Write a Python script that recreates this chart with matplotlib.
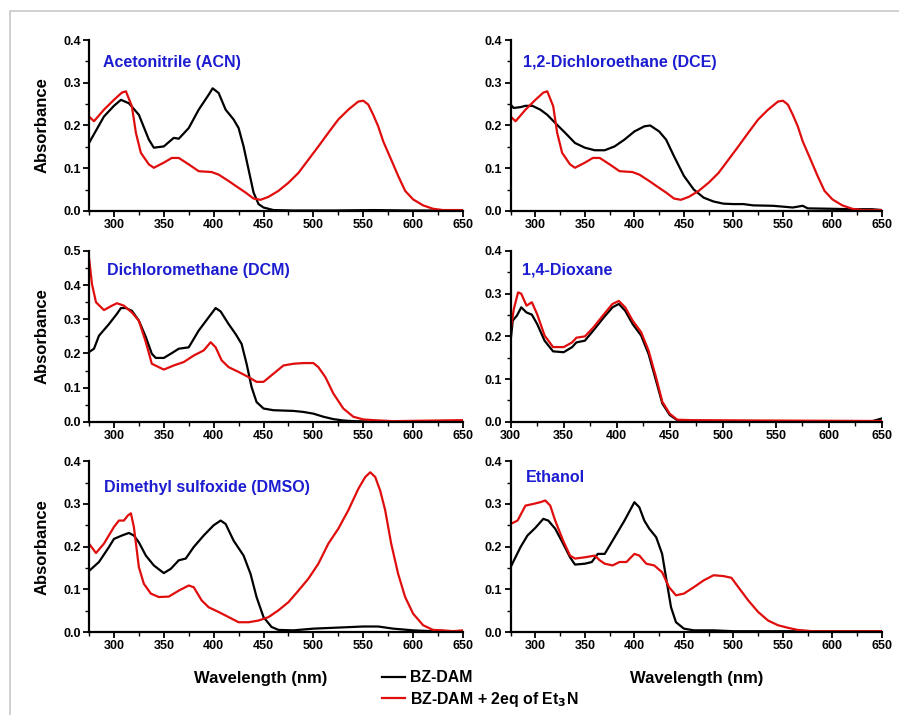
import numpy as np
import matplotlib
matplotlib.use('Agg')
import matplotlib.pyplot as plt
from matplotlib.lines import Line2D
from matplotlib.ticker import MultipleLocator, FormatStrFormatter

plt.rcParams['font.family'] = ['Liberation Sans', 'DejaVu Sans']
plt.rcParams['font.weight'] = 'bold'
plt.rcParams['mathtext.default'] = 'bf'

#- 溶媒ごとのスペクトル (nm, absorbance) 読み取り値
acn_bk_x = [275, 290, 300, 307, 315, 325, 335, 340, 350, 360, 365, 375, 385, 395, 399, 405, 412, 420, 425, 430, 435, 440, 445, 450, 460, 480, 520, 560, 600, 650]
acn_bk_y = [0.159, 0.221, 0.246, 0.260, 0.252, 0.225, 0.167, 0.148, 0.151, 0.171, 0.169, 0.194, 0.237, 0.272, 0.287, 0.276, 0.237, 0.214, 0.194, 0.151, 0.097, 0.043, 0.016, 0.008, 0.002, 0.001, 0.001, 0.002, 0.001, 0.001]
acn_rd_x = [275, 280, 290, 300, 308, 312, 318, 322, 327, 335, 340, 350, 358, 365, 375, 385, 398, 405, 415, 425, 432, 440, 447, 455, 465, 475, 485, 495, 505, 515, 525, 535, 545, 550, 555, 560, 565, 570, 578, 585, 592, 600, 610, 620, 630, 650]
acn_rd_y = [0.221, 0.210, 0.237, 0.260, 0.277, 0.280, 0.245, 0.183, 0.136, 0.109, 0.101, 0.113, 0.124, 0.124, 0.109, 0.093, 0.091, 0.085, 0.070, 0.054, 0.043, 0.029, 0.026, 0.033, 0.047, 0.066, 0.089, 0.120, 0.151, 0.183, 0.214, 0.237, 0.256, 0.258, 0.249, 0.225, 0.198, 0.163, 0.120, 0.082, 0.047, 0.027, 0.013, 0.005, 0.002, 0.002]

dce_bk_x = [275, 278, 285, 290, 297, 305, 312, 320, 330, 340, 350, 360, 370, 380, 390, 400, 410, 416, 425, 432, 440, 450, 460, 470, 480, 490, 500, 510, 520, 540, 560, 570, 575, 600, 620, 640, 650]
dce_bk_y = [0.249, 0.241, 0.243, 0.246, 0.246, 0.237, 0.225, 0.206, 0.183, 0.159, 0.148, 0.142, 0.142, 0.151, 0.167, 0.186, 0.198, 0.200, 0.186, 0.167, 0.128, 0.082, 0.050, 0.031, 0.022, 0.017, 0.016, 0.016, 0.013, 0.012, 0.008, 0.012, 0.006, 0.005, 0.004, 0.004, 0.002]
dce_rd_x = acn_rd_x
dce_rd_y = [0.221, 0.210, 0.237, 0.260, 0.277, 0.280, 0.245, 0.183, 0.136, 0.109, 0.101, 0.113, 0.124, 0.124, 0.109, 0.093, 0.091, 0.085, 0.070, 0.054, 0.043, 0.029, 0.026, 0.033, 0.047, 0.066, 0.089, 0.120, 0.151, 0.183, 0.214, 0.237, 0.256, 0.258, 0.249, 0.225, 0.198, 0.163, 0.120, 0.082, 0.047, 0.027, 0.013, 0.005, 0.002, 0.002]

dcm_bk_x = [275, 280, 285, 295, 303, 307, 312, 318, 325, 332, 338, 342, 350, 358, 365, 375, 385, 395, 402, 407, 415, 422, 428, 433, 438, 443, 450, 460, 480, 490, 500, 510, 520, 530, 540, 560, 650]
dcm_bk_y = [0.204, 0.214, 0.252, 0.286, 0.316, 0.333, 0.333, 0.325, 0.296, 0.248, 0.199, 0.187, 0.187, 0.201, 0.214, 0.218, 0.267, 0.306, 0.333, 0.323, 0.286, 0.257, 0.228, 0.170, 0.102, 0.058, 0.039, 0.034, 0.032, 0.029, 0.024, 0.015, 0.008, 0.004, 0.002, 0.001, 0.001]
dcm_rd_x = [275, 278, 282, 290, 298, 303, 310, 318, 325, 332, 338, 345, 350, 360, 370, 380, 390, 397, 402, 408, 415, 425, 435, 443, 450, 460, 470, 480, 490, 500, 505, 512, 520, 530, 540, 550, 560, 580, 600, 650]
dcm_rd_y = [0.480, 0.403, 0.350, 0.327, 0.340, 0.347, 0.340, 0.320, 0.296, 0.233, 0.170, 0.160, 0.153, 0.165, 0.175, 0.194, 0.209, 0.233, 0.218, 0.180, 0.160, 0.146, 0.131, 0.117, 0.117, 0.141, 0.165, 0.170, 0.172, 0.172, 0.160, 0.131, 0.083, 0.039, 0.015, 0.007, 0.005, 0.002, 0.003, 0.005]

dio_bk_x = [300, 302, 306, 310, 315, 320, 325, 332, 340, 350, 358, 362, 370, 378, 388, 396, 402, 408, 415, 423, 430, 437, 443, 450, 457, 470, 550, 640, 650]
dio_bk_y = [0.190, 0.237, 0.249, 0.268, 0.256, 0.251, 0.229, 0.190, 0.165, 0.163, 0.175, 0.186, 0.190, 0.214, 0.245, 0.268, 0.276, 0.260, 0.229, 0.202, 0.159, 0.097, 0.043, 0.016, 0.004, 0.002, 0.001, 0.001, 0.008]
dio_rd_x = [300, 303, 307, 310, 315, 320, 325, 332, 340, 350, 358, 362, 370, 378, 388, 396, 402, 408, 415, 423, 430, 437, 443, 450, 457, 470, 550, 650]
dio_rd_y = [0.214, 0.264, 0.303, 0.300, 0.272, 0.280, 0.252, 0.202, 0.175, 0.175, 0.186, 0.197, 0.200, 0.221, 0.252, 0.276, 0.283, 0.268, 0.237, 0.210, 0.167, 0.105, 0.047, 0.019, 0.005, 0.004, 0.003, 0.002]

dmso_bk_x = [275, 285, 295, 300, 308, 315, 320, 325, 332, 340, 350, 357, 365, 372, 380, 390, 400, 407, 412, 420, 430, 437, 443, 450, 458, 465, 480, 500, 520, 550, 565, 580, 600, 620, 650]
dmso_bk_y = [0.143, 0.164, 0.199, 0.218, 0.226, 0.232, 0.226, 0.210, 0.179, 0.156, 0.138, 0.148, 0.168, 0.172, 0.199, 0.226, 0.250, 0.261, 0.253, 0.214, 0.179, 0.136, 0.082, 0.035, 0.012, 0.005, 0.004, 0.008, 0.010, 0.013, 0.013, 0.008, 0.004, 0.002, 0.002]
dmso_rd_x = [275, 282, 290, 300, 305, 310, 314, 317, 320, 325, 330, 337, 345, 355, 365, 375, 380, 388, 395, 405, 415, 425, 435, 445, 455, 465, 475, 485, 495, 505, 515, 525, 535, 545, 552, 557, 562, 567, 572, 578, 585, 592, 600, 610, 620, 630, 640, 650]
dmso_rd_y = [0.207, 0.185, 0.207, 0.246, 0.261, 0.261, 0.273, 0.278, 0.246, 0.152, 0.113, 0.090, 0.082, 0.083, 0.097, 0.109, 0.105, 0.074, 0.058, 0.047, 0.035, 0.023, 0.023, 0.027, 0.035, 0.051, 0.070, 0.097, 0.125, 0.160, 0.207, 0.242, 0.285, 0.335, 0.363, 0.374, 0.363, 0.331, 0.285, 0.207, 0.136, 0.082, 0.043, 0.016, 0.005, 0.004, 0.002, 0.004]

eth_bk_x = [275, 285, 292, 300, 308, 313, 320, 328, 335, 340, 350, 357, 363, 370, 378, 390, 400, 405, 410, 415, 422, 428, 433, 437, 442, 450, 460, 480, 500, 650]
eth_bk_y = [0.152, 0.199, 0.226, 0.244, 0.265, 0.261, 0.242, 0.207, 0.175, 0.158, 0.160, 0.164, 0.183, 0.183, 0.214, 0.261, 0.304, 0.292, 0.261, 0.242, 0.222, 0.183, 0.113, 0.058, 0.023, 0.008, 0.004, 0.004, 0.002, 0.002]
eth_rd_x = [275, 282, 290, 298, 305, 310, 315, 320, 328, 335, 340, 350, 360, 365, 370, 378, 385, 392, 400, 405, 412, 420, 428, 435, 442, 450, 460, 470, 480, 490, 498, 505, 515, 525, 535, 545, 555, 565, 580, 650]
eth_rd_y = [0.253, 0.261, 0.296, 0.300, 0.304, 0.308, 0.296, 0.261, 0.214, 0.179, 0.172, 0.175, 0.179, 0.168, 0.160, 0.156, 0.164, 0.164, 0.183, 0.179, 0.160, 0.156, 0.140, 0.105, 0.086, 0.090, 0.105, 0.121, 0.133, 0.131, 0.127, 0.105, 0.074, 0.047, 0.027, 0.016, 0.010, 0.005, 0.002, 0.002]

names = ['Acetonitrile (ACN)', '1,2-Dichloroethane (DCE)', 'Dichloromethane (DCM)',
         '1,4-Dioxane', 'Dimethyl sulfoxide (DMSO)', 'Ethanol']
black = [(acn_bk_x, acn_bk_y), (dce_bk_x, dce_bk_y), (dcm_bk_x, dcm_bk_y),
         (dio_bk_x, dio_bk_y), (dmso_bk_x, dmso_bk_y), (eth_bk_x, eth_bk_y)]
red = [(acn_rd_x, acn_rd_y), (dce_rd_x, dce_rd_y), (dcm_rd_x, dcm_rd_y),
       (dio_rd_x, dio_rd_y), (dmso_rd_x, dmso_rd_y), (eth_rd_x, eth_rd_y)]
ymax = [0.4, 0.4, 0.5, 0.4, 0.4, 0.4]
xmin = [275, 275, 275, 300, 275, 275]
# 溶媒名の位置 (axes座標)
name_x = [0.037, 0.032, 0.048, 0.030, 0.040, 0.040]
name_y = [0.870, 0.866, 0.884, 0.890, 0.848, 0.906]

RED = '#e00d0d'
BLUE = '#1c1cd0'

fig = plt.figure(figsize=(8.99, 7.15), dpi=100)
#- 外枠 (上と左だけ見える)
fig.add_artist(Line2D([10/899, 10/899, 1.0], [0.0, 1 - 11/715, 1 - 11/715],
                      transform=fig.transFigure, color='#c8c8c8', lw=1.2))

lefts = [0.099, 0.568]
bottoms = [0.705, 0.410, 0.116]
for i in range(6):
    r, c = divmod(i, 2)
    ax = fig.add_axes([lefts[c], bottoms[r], 0.416 if c == 0 else 0.413, 0.239])
    ax.plot(*black[i], color='k', lw=1.6, label='BZ-DAM')
    ax.plot(*red[i], color=RED, lw=1.6, label='BZ-DAM + 2eq of Et$_3$N')
    ax.set_xlim(xmin[i], 650)
    ax.set_ylim(0, ymax[i])
    ax.xaxis.set_major_locator(MultipleLocator(50))
    ax.xaxis.set_minor_locator(MultipleLocator(25))
    ax.yaxis.set_major_locator(MultipleLocator(0.1))
    ax.yaxis.set_minor_locator(MultipleLocator(0.05))
    ax.yaxis.set_major_formatter(FormatStrFormatter('%.1f'))
    for s in ['top', 'right']:
        ax.spines[s].set_visible(False)
    for s in ['left', 'bottom']:
        ax.spines[s].set_linewidth(1.6)
    ax.tick_params(which='major', direction='out', length=4, width=1.3, labelsize=9, pad=2)
    ax.tick_params(which='minor', direction='out', length=3, width=1.0)
    for lab in ax.get_xticklabels() + ax.get_yticklabels():
        lab.set_fontweight('bold')
    ax.text(name_x[i], name_y[i], names[i], transform=ax.transAxes, color=BLUE,
            fontsize=11.5, fontweight='bold', va='center')
    if c == 0:
        ax.set_ylabel('Absorbance', fontsize=12, fontweight='bold', labelpad=10)
    if r == 2:
        ax.set_xlabel('Wavelength (nm)', fontsize=12, fontweight='bold')
        ax.xaxis.set_label_coords(0.46 if c == 0 else 0.5, -0.225)
    if i == 4:
        h, l = ax.get_legend_handles_labels()

fig.legend(h, l, loc='center left', bbox_to_anchor=(0.425, 0.0355), frameon=False,
           prop={'weight': 'bold', 'size': 11.4}, handlelength=1.45,
           handletextpad=0.3, labelspacing=0.3, borderpad=0, borderaxespad=0)

plt.savefig('out.png', dpi=100)
